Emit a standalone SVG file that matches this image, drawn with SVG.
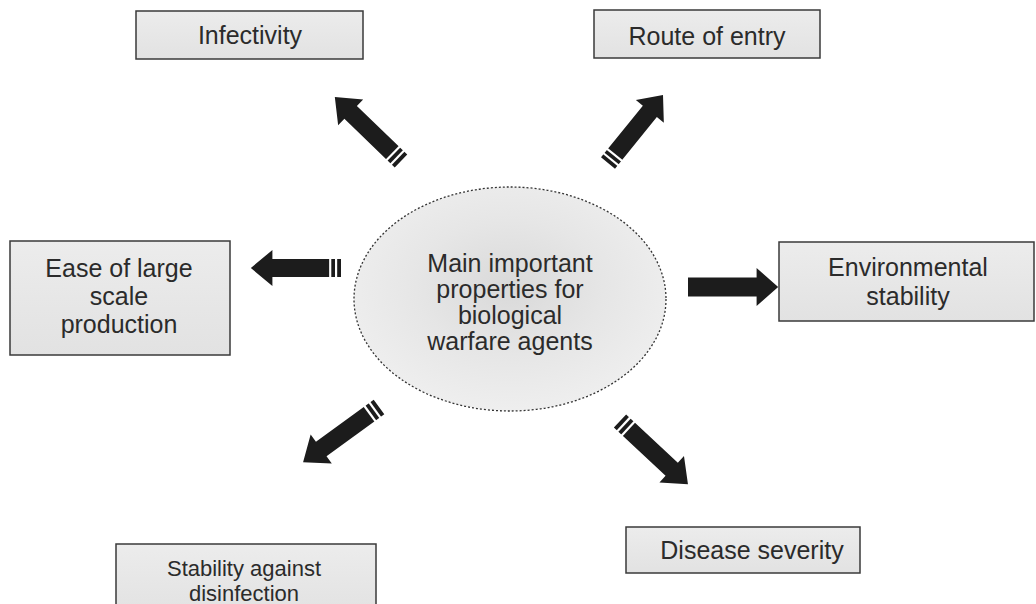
<svg xmlns="http://www.w3.org/2000/svg" width="1036" height="604" viewBox="0 0 1036 604">
  <defs>
    <linearGradient id="boxfill" x1="0" y1="0" x2="0" y2="1">
      <stop offset="0" stop-color="#ececec"/>
      <stop offset="1" stop-color="#e2e2e2"/>
    </linearGradient>
    <radialGradient id="circfill" cx="0.5" cy="0.45" r="0.6">
      <stop offset="0" stop-color="#d9d9d9"/>
      <stop offset="0.5" stop-color="#e6e6e6"/>
      <stop offset="1" stop-color="#f0f0f0"/>
    </radialGradient>
    <g id="arrow">
      <path d="M0,-9 L70,-9 L70,-18 L92,0 L70,18 L70,9 L0,9 Z" fill="#1c1c1c"/>
    </g>
    <g id="stripes">
      <line x1="5" y1="-10" x2="5" y2="10" stroke="#fff" stroke-width="2.2"/>
      <line x1="11" y1="-10" x2="11" y2="10" stroke="#fff" stroke-width="2.2"/>
    </g>
  </defs>
  <style>
    .box { fill: url(#boxfill); stroke: #3a3a3a; stroke-width: 1.5; }
    .lbl { font-family: "Liberation Sans", Arial, sans-serif; font-size: 25px; fill: #2b2b2b; text-anchor: middle; }
    .sm { font-size: 22px; }
  </style>
  <rect width="1036" height="604" fill="#ffffff"/>

  <g id="center">
    <ellipse cx="510" cy="299" rx="156" ry="112" fill="url(#circfill)" stroke="#333" stroke-width="1.3" stroke-dasharray="2,2"/>
    <text class="lbl"><tspan x="510" y="272">Main important</tspan><tspan x="510" y="298">properties for</tspan><tspan x="510" y="324">biological</tspan><tspan x="510" y="350">warfare agents</tspan></text>
  </g>

  <g id="infectivity">
    <rect class="box" x="136" y="11" width="227" height="48"/>
    <text class="lbl" x="250" y="44">Infectivity</text>
  </g>
  <g id="route">
    <rect class="box" x="594" y="10" width="226" height="48"/>
    <text class="lbl" x="707" y="45">Route of entry</text>
  </g>
  <g id="ease">
    <rect class="box" x="10" y="241" width="220" height="114"/>
    <text class="lbl"><tspan x="119" y="277">Ease of large</tspan><tspan x="119" y="305">scale</tspan><tspan x="119" y="333">production</tspan></text>
  </g>
  <g id="environmental">
    <rect class="box" x="779" y="242" width="255" height="79"/>
    <text class="lbl"><tspan x="908" y="276">Environmental</tspan><tspan x="908" y="305">stability</tspan></text>
  </g>
  <g id="stability">
    <rect class="box" x="116" y="544" width="260" height="70"/>
    <text class="lbl sm"><tspan x="244" y="576">Stability against</tspan><tspan x="244" y="601">disinfection</tspan></text>
  </g>
  <g id="severity">
    <rect class="box" x="626" y="527" width="234" height="46"/>
    <text class="lbl" x="752" y="559">Disease severity</text>
  </g>

  <g id="connectors">
    <g transform="translate(401,161) rotate(-136)"><use href="#arrow"/><use href="#stripes"/></g>
    <g transform="translate(608,163) rotate(-51) scale(0.95,1)"><use href="#arrow"/><use href="#stripes"/></g>
    <g transform="translate(341,268) rotate(180) scale(0.98,1)"><use href="#arrow"/><use href="#stripes"/></g>
    <g transform="translate(688,287) scale(0.98,1.05)"><use href="#arrow"/></g>
    <g transform="translate(379,407) rotate(144) scale(1.02,1)"><use href="#arrow"/><use href="#stripes"/></g>
    <g transform="translate(620,421) rotate(43) scale(1.01,1)"><use href="#arrow"/><use href="#stripes"/></g>
  </g>
</svg>
